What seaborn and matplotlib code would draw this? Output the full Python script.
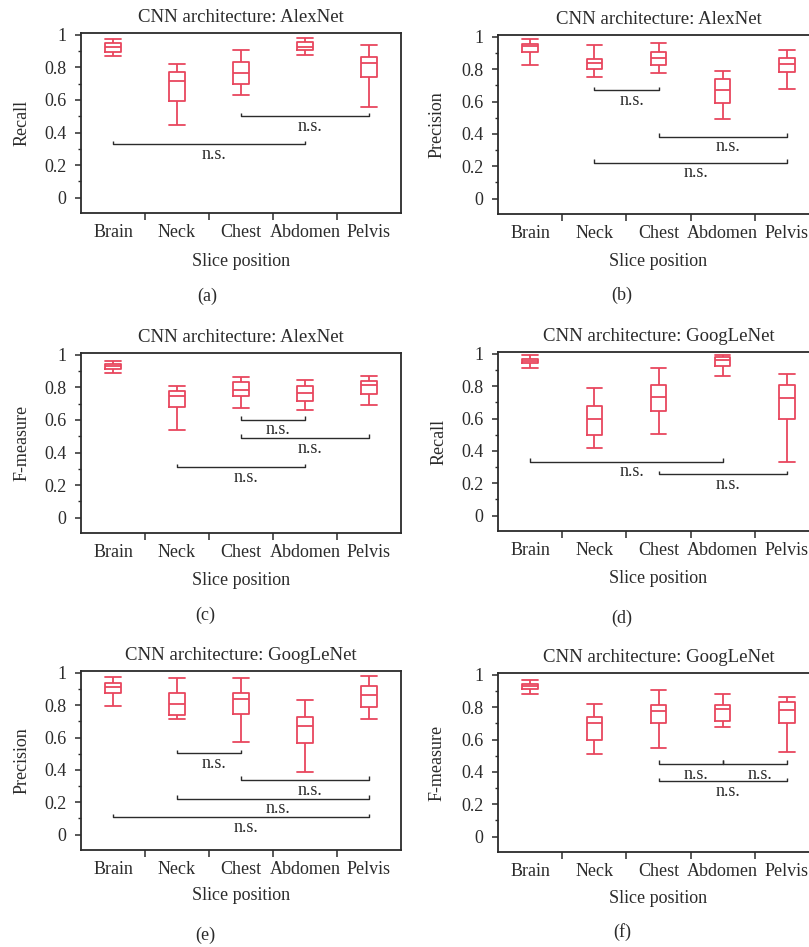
import numpy as np
import pandas as pd
import matplotlib
matplotlib.use("Agg")
import matplotlib.pyplot as plt
import seaborn as sns

sns.set_theme(style="white")
plt.rcParams['font.family'] = ['Liberation Serif', 'DejaVu Serif']

categories = ["Brain", "Neck", "Chest", "Abdomen", "Pelvis"]
yticks = [0, 0.2, 0.4, 0.6, 0.8, 1.0]
ytick_labels = ["0", "0.2", "0.4", "0.6", "0.8", "1"]

# five-number summaries per category: [min, Q1, median, Q3, max]
alexnet_recall = [[0.871, 0.898, 0.928, 0.953, 0.973],
                  [0.445, 0.594, 0.717, 0.775, 0.824],
                  [0.633, 0.699, 0.768, 0.836, 0.910],
                  [0.875, 0.908, 0.928, 0.955, 0.984],
                  [0.557, 0.744, 0.830, 0.867, 0.941]]
alexnet_precision = [[0.828, 0.904, 0.945, 0.957, 0.986],
                     [0.755, 0.802, 0.836, 0.863, 0.949],
                     [0.775, 0.828, 0.867, 0.904, 0.961],
                     [0.491, 0.589, 0.669, 0.742, 0.791],
                     [0.681, 0.785, 0.830, 0.869, 0.920]]
alexnet_fmeasure = [[0.892, 0.912, 0.929, 0.943, 0.963],
                    [0.541, 0.680, 0.749, 0.780, 0.806],
                    [0.676, 0.747, 0.782, 0.835, 0.865],
                    [0.659, 0.716, 0.769, 0.806, 0.847],
                    [0.690, 0.761, 0.816, 0.841, 0.871]]
googlenet_recall = [[0.911, 0.944, 0.958, 0.970, 0.991],
                    [0.421, 0.498, 0.597, 0.677, 0.790],
                    [0.507, 0.650, 0.734, 0.806, 0.911],
                    [0.864, 0.923, 0.960, 0.981, 0.995],
                    [0.330, 0.595, 0.726, 0.808, 0.878]]
googlenet_precision = [[0.796, 0.874, 0.913, 0.937, 0.974],
                       [0.714, 0.737, 0.806, 0.874, 0.966],
                       [0.571, 0.747, 0.841, 0.874, 0.966],
                       [0.385, 0.567, 0.673, 0.728, 0.835],
                       [0.714, 0.788, 0.861, 0.917, 0.978]]
googlenet_fmeasure = [[0.880, 0.916, 0.933, 0.947, 0.971],
                      [0.514, 0.600, 0.702, 0.741, 0.818],
                      [0.549, 0.700, 0.780, 0.812, 0.908],
                      [0.680, 0.714, 0.792, 0.816, 0.880],
                      [0.522, 0.700, 0.784, 0.831, 0.865]]

# significance brackets: (from category index, to category index, height)
alexnet_recall_brackets = [(0, 3, 0.327), (2, 4, 0.499)]
alexnet_precision_brackets = [(1, 2, 0.669), (2, 4, 0.384), (1, 4, 0.223)]
alexnet_fmeasure_brackets = [(2, 3, 0.602), (2, 4, 0.490), (1, 3, 0.310)]
googlenet_recall_brackets = [(0, 3, 0.334), (2, 4, 0.256)]
googlenet_precision_brackets = [(1, 2, 0.503), (2, 4, 0.338), (1, 4, 0.223), (0, 4, 0.108)]
googlenet_fmeasure_brackets = [(2, 3, 0.449), (3, 4, 0.449), (2, 4, 0.343)]

titles = ["CNN architecture: AlexNet", "CNN architecture: AlexNet",
          "CNN architecture: AlexNet", "CNN architecture: GoogLeNet",
          "CNN architecture: GoogLeNet", "CNN architecture: GoogLeNet"]
ylabels = ["Recall", "Precision", "F-measure", "Recall", "Precision", "F-measure"]
panel_tags = ["(a)", "(b)", "(c)", "(d)", "(e)", "(f)"]

panels = [alexnet_recall, alexnet_precision, alexnet_fmeasure,
          googlenet_recall, googlenet_precision, googlenet_fmeasure]
brackets = [alexnet_recall_brackets, alexnet_precision_brackets, alexnet_fmeasure_brackets,
            googlenet_recall_brackets, googlenet_precision_brackets, googlenet_fmeasure_brackets]

RED = "#E8465E"
INK = "#2b2b2b"
FS = 13

W, H = 809, 947
fig = plt.figure(figsize=(W / 100, H / 100), dpi=100)

# axes boxes in pixels: (left, top, right, bottom)
boxes_px = [(81, 33, 401, 213), (498, 35, 819, 214),
            (81, 353, 401, 533), (498, 352, 819, 531),
            (81, 671, 401, 850), (498, 673, 819, 852)]
ylabel_x = [22, 437, 22, 439, 22, 437]
xlabel_y = [262, 262, 580, 578, 895, 898]
tag_pos = [(207, 296), (622, 295), (205, 615), (622, 618), (205, 935), (622, 932)]

for k in range(6):
    l, t, r, b = boxes_px[k]
    ax = fig.add_axes([l / W, 1 - b / H, (r - l) / W, (b - t) / H])
    rows = []
    for ci, cat in enumerate(categories):
        for v in panels[k][ci]:
            rows.append({"pos": cat, "val": v})
    df = pd.DataFrame(rows)
    sns.boxplot(data=df, x="pos", y="val", order=categories, whis=(0, 100),
                width=0.24, fill=False, color=RED, linewidth=1.3,
                showfliers=False, capwidths=0.24, ax=ax)

    for (i, j, h) in brackets[k]:
        ax.plot([i, i, j, j], [h + 0.022, h, h, h + 0.022],
                color=INK, lw=1.0, solid_capstyle="butt")
        ax.text((i + j) / 2 + 0.08, h - 0.09, "n.s.", ha="center", va="baseline",
                fontsize=FS, color=INK)

    ax.set_xlim(-0.5, 4.5)
    ax.set_ylim(-0.095, 1.012)
    ax.set_yticks(yticks)
    ax.set_yticklabels(ytick_labels)
    ax.set_yticks(np.arange(0.1, 1.0, 0.2), minor=True)
    ax.set_xticks(range(5))
    ax.set_xticklabels(categories)
    ax.set_xticks([0.5, 1.5, 2.5, 3.5], minor=True)
    ax.tick_params(axis="x", which="major", length=0, pad=8, labelsize=FS, labelcolor=INK)
    ax.tick_params(axis="x", which="minor", length=5, width=1.1, direction="out",
                   color=INK, bottom=True)
    ax.tick_params(axis="y", which="major", length=4.3, width=1.1, direction="out",
                   pad=6, labelsize=FS, labelcolor=INK, color=INK, left=True)
    ax.tick_params(axis="y", which="minor", length=2.5, width=1.0, direction="out",
                   color=INK, left=True)
    ax.set_xlabel("")
    ax.set_ylabel("")
    for sp in ax.spines.values():
        sp.set_visible(True)
        sp.set_color(INK)
        sp.set_linewidth(1.3)
    ax.set_title(titles[k], fontsize=FS + 0.5, color=INK, pad=8)

    fig.text(ylabel_x[k] / W, 1 - ((t + b) / 2) / H, ylabels[k], rotation=90,
             ha="center", va="center", fontsize=FS, color=INK)
    fig.text(((l + r) / 2) / W, 1 - xlabel_y[k] / H, "Slice position",
             ha="center", va="center", fontsize=FS, color=INK)
    fig.text(tag_pos[k][0] / W, 1 - tag_pos[k][1] / H, panel_tags[k],
             ha="center", va="center", fontsize=FS, color=INK)

fig.savefig("out.png", dpi=100, facecolor="white")
